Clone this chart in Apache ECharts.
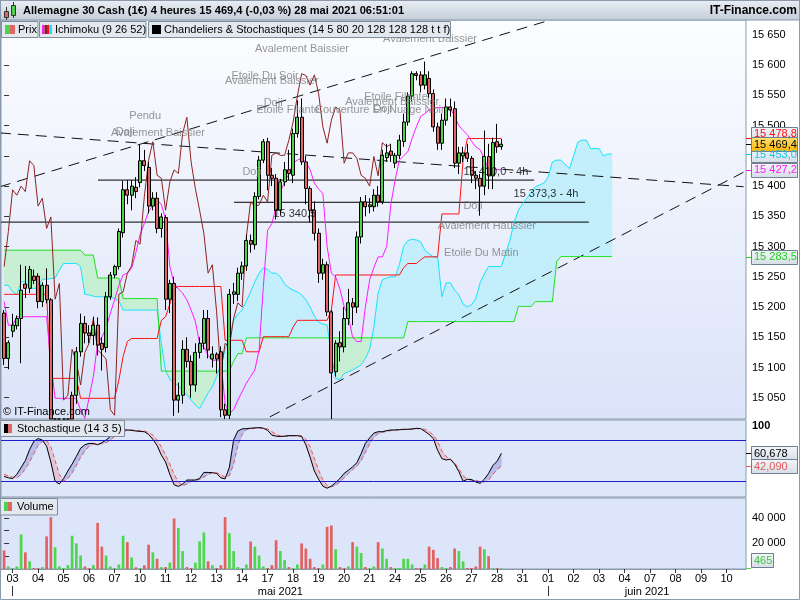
<!DOCTYPE html>
<html>
<head>
<meta charset="utf-8">
<title>Allemagne 30 Cash</title>
<script src="https://cdn.jsdelivr.net/npm/echarts@6.0.0/dist/echarts.min.js"></script>
<style>
html,body{margin:0;padding:0;background:#ffffff;overflow:hidden;}
#chart{width:800px;height:600px;}
</style>
</head>
<body>
<div id="chart"></div>
<script>
// ================= DATA =================
// 4-hour candles, index 0 = 30 Apr 16:00 ... index 117 = 28 May 04:00
const opens = [
15190,15115,15160,15169,15181,15238,15231,15251,15251,15209,
15236,15212,14950,14975,14985,14995,15054,15054,15126,15173,
15157,15153,15170,15140,15133,15217,15253,15267,15323,15394,
15385,15398,15406,15442,15431,15367,15380,15330,15348,15213,
15239,15046,15054,15130,15110,15071,15125,15140,15181,15114,
15122,15126,15030,15021,15221,15221,15256,15268,15310,15303,
15383,15443,15473.5,15418,15413,15360,15407,15427,15418,15487,
15514,15440,15396,15360,15322,15256,15270,15192,15093,15141,
15134,15181,15207,15200,15316,15374,15366,15366,15385,15374,
15447,15458,15438,15451,15474,15506,15549,15586,15584,15567,
15578,15553,15498,15471,15509,15531,15528,15438,15450,15455,
15446,15418,15413,15400,15449,15417,15473.5,15465.3];
const highs = [
15195,15145,15189,15186,15270,15268,15268,15262,15256,15241,
15264,15215,14990,14995,15000,15010,15060,15134,15189,15185,
15170,15184,15183,15150,15225,15258,15270,15330,15409,15410,
15410,15415,15468,15460,15440,15390,15390,15355,15352,15245,
15250,15075,15145,15150,15120,15140,15150,15195,15195,15135,
15125,15135,15040,15230,15240,15265,15275,15320,15320,15390,
15450,15478,15480,15430,15420,15412,15440,15460,15495,15542,
15545,15450,15400,15375,15330,15280,15275,15195,15145,15160,
15200,15230,15215,15325,15382,15385,15380,15395,15400,15460,
15470,15470,15455,15485,15520,15555,15590,15590,15590,15606,
15590,15560,15505,15520,15545,15545,15540,15465,15465,15470,
15450,15425,15420,15492,15470,15480,15503,15478];
const lows = [
15104,15097,15150,15163,15107,15215,15223,15238,15198,15200,
15206,14920,14930,14965,14975,14985,14990,15040,15118,15140,
15140,15137,15120,15095,15125,15212,15248,15262,15315,15370,
15360,15380,15398,15425,15355,15360,15322,15315,15195,15190,
15020,15025,15040,15100,15050,15060,15115,15130,15115,15100,
15090,15018,14990,15010,15205,15210,15245,15260,15290,15295,
15378,15438,15393,15400,15345,15352,15400,15410,15405,15480,
15435,15370,15340,15310,15240,15245,15185,14990,15085,15110,
15125,15170,15170,15190,15305,15350,15355,15358,15366,15370,
15440,15440,15430,15445,15465,15500,15540,15575,15555,15560,
15545,15490,15460,15460,15500,15515,15430,15420,15440,15440,
15405,15395,15351,15385,15395,15395,15455,15460];
const closes = [
15115,15141,15170,15181,15228,15231,15262,15244,15209,15236,
15212,14950,14975,14985,14995,15000,15005,15126,15173,15157,
15153,15170,15137,15130,15217,15253,15267,15325,15394,15385,
15400,15391,15442,15434,15367,15380,15330,15349,15213,15239,
15046,15054,15130,15110,15071,15125,15140,15181,15129,15122,
15114,15030,15021,15221,15225,15256,15268,15310,15304,15383,
15443,15473.5,15418,15413,15360,15407,15427,15421,15487,15514,
15440,15396,15360,15322,15256,15270,15192,15091,15140,15134,
15181,15207,15200,15316,15374,15366,15369,15385,15374,15451,
15455,15451,15451,15476,15506,15549,15586,15583,15567,15584,
15553,15498,15471,15509,15531,15526,15438,15455,15455,15446,
15418,15413,15400,15449,15417,15472,15465,15469.4];

// volumes, grouped by trading day (6 bars per day)
const volumes = [
14500,2000,
800,2000,27000,13000,6000,800,
800,1500,25500,40500,17000,2000,
800,3000,26000,20000,10500,2000,
800,3000,36000,17500,10500,2000,
800,3500,26000,21000,9000,1300,
800,3000,19000,13000,8000,1500,
1500,5000,39500,32000,14000,1500,
800,5000,21500,28500,6000,3000,
800,3000,40500,28000,14000,1500,
800,3500,21500,17500,10500,2000,
800,3000,22500,14000,7000,1500,
800,3500,20000,16000,8000,1500,
800,3500,33000,34000,15500,1500,
800,2000,21000,17500,12500,1500,
800,2000,21000,16000,8000,1500,
800,800,8000,8000,3500,800,
800,3500,17500,15000,8500,1500,
800,1500,16000,14000,6000,800,
800,2000,17500,15500,10000,800,
800,465];
// volume bar direction (G = up, R = down), grouped by day
const volumeDirection = ('RG'+'GGGRGR'+'RGRRGG'+'GGGGGR'+'RGRRGG'+'GGGRGR'+'GRRGRG'+'RGRGGR'+
  'RGGGRG'+'RRRGGG'+'GGRGGG'+'RRRGGR'+'GGRRRR'+'RGRRGR'+'RGRGGR'+'GGRGGR'+'GGGGGR'+'RGRRRG'+
  'GRRGGR'+'RRRGRG'+'RG').split('');

// Ichimoku lines, one value per bar
const tenkan = [
15209,15170,15170,15184,15184,15184,15184,15184,15184,15184,
15184,15107,15049,15049,15049,15049,15049,15049,15030,15016,
15050,15085,15140,15150,15165,15190,15212,15236,15253,15256,
15264,15290,15320,15338,15358,15369,15377,15370,15345,15267,
15239,15230,15223,15212,15195,15176,15140,15134,15120,15112,
15112,15112,15040,15024,15030,15046,15060,15074,15085,15096,
15129,15234,15327,15338,15366,15391,15407,15420,15438,15443,
15446,15440,15427,15405,15395,15388,15300,15256,15250,15230,
15201,15185,15150,15143,15143,15200,15245,15265,15283,15283,
15300,15370,15410,15443,15450,15457,15479,15498,15515,15520,
15526,15529,15530,15530,15530,15529,15515,15500,15492,15485,
15474,15465,15460,15446,15427.2,15427.2,15427.2,15427.2];
const kijun = [
15221,15221,15221,15221,15221,15221,15221,15221,15221,15221,
15221,15082,15082,15082,15082,15082,15082,15082,15049,15049,
15049,15049,15049,15049,15049,15049,15049,15079,15118,15143,
15148,15148,15148,15148,15148,15148,15148,15178,15184,15205,
15230,15234,15234,15234,15234,15234,15234,15234,15234,15234,
15234,15234,15145,15145,15145,15145,15145,15126,15126,15126,
15126,15151,15151,15151,15151,15151,15151,15151,15167,15178,
15178,15178,15178,15178,15178,15178,15178,15195,15253,15253,
15253,15253,15253,15253,15253,15253,15253,15253,15253,15253,
15253,15253,15253,15253,15265,15272,15272,15272,15278,15283,
15283,15283,15283,15354,15354,15354,15354,15354,15443,15478.8,
15478.8,15478.8,15478.8,15478.8,15478.8,15478.8,15478.8,15478.8];
// Senkou spans (already displaced 26 bars ahead): indices 0..143
const senkouA = [
15236,15236,15225,15221,15242,15242,15231,15231,15231,15246,
15246,15247,15248,15261,15272,15272,15272,15272,15267,15221,
15220,15218,15217,15217,15217,15216,15214,15210,15195,15195,
15195,15195,15195,15195,15195,15195,15195,15140,15095,15080,
15075,15070,15062,15055,15046,15038,15032,15045,15058,15068,
15085,15105,15130,15150,15178,15188,15195,15210,15225,15242,
15256,15265,15262,15256,15256,15250,15238,15232,15228,15225,
15220,15212,15200,15185,15175,15172,15170,15120,15082,15080,
15090,15093,15096,15100,15104,15115,15130,15167,15223,15245,
15248,15250,15250,15270,15300,15310,15312,15311,15308,15294,
15288,15283,15283,15217,15240,15240,15228,15220,15205,15200,
15204,15214,15240,15255,15267,15267,15267,15267,15289,15310,
15340,15360,15371,15380,15390,15399,15402,15405,15415,15440,
15443,15443,15436,15429,15450,15473,15476,15476,15462,15462,
15462,15450,15453,15453];
const senkouB = [
15294,15294,15294,15294,15294,15294,15294,15294,15294,15294,
15294,15294,15294,15294,15294,15294,15294,15294,15294,15286,
15286,15286,15248,15248,15248,15248,15248,15248,15214,15214,
15214,15214,15214,15214,15214,15214,15214,15094,15094,15094,
15094,15094,15094,15094,15094,15094,15094,15094,15094,15094,
15094,15094,15094,15094,15110,15123,15123,15149,15149,15149,
15149,15149,15149,15149,15149,15149,15149,15149,15149,15149,
15149,15149,15149,15149,15149,15149,15149,15149,15149,15149,
15149,15149,15149,15149,15149,15149,15149,15149,15149,15149,
15149,15149,15149,15149,15149,15176,15176,15176,15176,15176,
15176,15176,15176,15176,15176,15176,15176,15176,15176,15176,
15176,15176,15176,15176,15176,15176,15176,15176,15176,15176,
15176,15201,15201,15201,15201,15209,15209,15209,15209,15209,
15275,15283.5,15283.5,15283.5,15283.5,15283.5,15283.5,15283.5,15283.5,15283.5,
15283.5,15283.5,15283.5,15283.5];
const chikouShift = 26; // lagging span = closes drawn 26 bars back

// Stochastic (14 3 5)
const stochK = [
27,25,24,30,40,50,66,78,82,80,
71,48,20,16,24,35,45,56,68,73,
75,75,73,76,80,85,90,93,94.5,94.5,
94,93,92.5,92,88,81,72,58,48,30,
15,12.5,16,21.8,21.8,21.8,24,32.9,32.9,32.5,
31.5,25,23.5,40,80,93,96,96.5,97,97.5,
97.9,97,94,87,85.5,85,85.5,86.3,86.3,86.3,
85,73,55,35,23,13,10,13,18,24,
31.5,36,41,47,60,75,83,90,92,92,
93.5,94.5,94.5,95,95.5,95.5,96,96.9,96.5,92.5,
88,82,65,53,51,52,45,34,20,23,
22.5,19,17,23,31.5,43,49,60.678];
const stochD = [
30,28,26,25,30,38,48,60,72,78,
79,70,50,30,20,24,32,43,55,64,
71,74,74.5,74.5,76,80,85,89,92,94,
94.5,94,93.5,93,91,87,80,70,58,45,
30,19,14,16,19.5,21.5,22.5,26,30,32.5,
32.5,29.5,26,28,45,72,88,95,96.5,97,
97.5,97.5,96,92,88.5,86,85.5,85.5,86,86.3,
86,81,70,53,36,22,14,12,14,19,
25,31,37,42,50,62,74,84,89,91,
92.5,93.5,94.5,94.7,95,95.4,95.7,96.3,96.5,95.5,
92,87,78,64,56,52,47,38,28,23,
21.5,21,19.5,19,22,30,37,42.09];
const stochLevels = [80, 20];

// Axis tick labels
const dayLabels = ['03','04','05','06','07','10','11','12','13','14','17','18','19','20','21','24','25','26','27','28','31','01','02','03','04','07','08','09','10'];
const firstDayBar = 2;      // first bar of 3 May
const barsPerDay = 6;
const monthLabels = ['mai 2021','juin 2021'];
const monthFirstDay = [0, 21];     // position in dayLabels
const priceTicks = [15050,15100,15150,15200,15250,15300,15350,15400,15450,15500,15550,15600,15650];
const stochTicks = [100];
const volumeTicks = [10000,20000,30000,40000,50000];
const volumeTickLabels = [20000,40000];

// Horizontal support / resistance levels
const levelValues = [15410.0, 15373.3, 15340.5];
const levelStart = [22.1, 54.1, -1];
const levelEnd = [124.7, 136.7, 137.6];
const levelText = ['15 410,0 - 4h', '15 373,3 - 4h', '15 340,5'];
const levelLabelIdx = [115.7, 127.5, 68.4];
const levelLabelVal = [15422.9, 15386.9, 15353.9];

// Dashed trend lines [bar, price]
const trendStart = [[-1, 15488], [-1, 15399], [55, 14991]];
const trendEnd = [[174, 15399], [130, 15678], [174, 15423]];

// Candlestick pattern annotations
const patternText = ['Avalement Baissier','Etoile Du Soir','Avalement Baissier','Doji','Etoile Filante',
  'Couverture En Nuage Noir','Doji','Avalement Baissier','Etoile Filante','Avalement Baissier',
  'Pendu','Avalement Baissier','Doji','Doji','Doji','Avalement Haussier','Etoile Du Matin'];
const patternIdx = [70.1, 61.4, 63.0, 63.3, 66.8, 88.4, 89.1, 91.3, 92.2, 100.2, 33.2, 36.2, 28.5, 58.3, 110.3, 113.6, 112.3];
const patternVal = [15626.8, 15583.0, 15573.9, 15538.3, 15526.8, 15526.8, 15527.6, 15540.0, 15548.3, 15644.2, 15516.8, 15488.7, 15489.5, 15424.2, 15367.9, 15334.9, 15289.4];

const titleText = 'Allemagne 30 Cash (1€) 4 heures 15 469,4 (-0,03 %) 28 mai 2021 06:51:01';

// ================= CHART =================
const FONT = '"Liberation Sans", Arial, Helvetica, sans-serif';
const X_MIN = -0.73, X_MAX = 174.56;
const P_MIN = 15014.8, P_MAX = 15674.8;

const grp = s => String(s).replace(/\B(?=(\d{3})+(?!\d))/g, ' ');
const fmtDec = (v, d) => { const p = v.toFixed(d).split('.'); return grp(p[0]) + (d ? ',' + p[1] : ''); };
const pairs = arr => arr.map((v, i) => [i, v]);
// keep candles inside the price panel (the panel crops them like the original)
const inPanel = v => Math.min(P_MAX, Math.max(P_MIN, v));

const dayPos = dayLabels.map((d, k) => firstDayBar + k * barsPerDay);
const monthStarts = monthFirstDay.map(k => dayPos[k]);
const monthCenters = monthStarts.map((s, k) => (s + (k + 1 < monthStarts.length ? monthStarts[k + 1] : X_MAX)) / 2);

const candleData = opens.map((o, i) => [i, inPanel(o), inPanel(closes[i]), inPanel(lows[i]), inPanel(highs[i])]);
const chikouData = closes.slice(chikouShift).map((c, i) => [i, c]);
const cloudData = [];
for (let i = 0; i < senkouA.length - 1; i++) cloudData.push([i, senkouA[i], senkouB[i], senkouA[i + 1], senkouB[i + 1]]);
const stochFill = [];
for (let i = 0; i < stochK.length - 1; i++) stochFill.push([i, stochK[i], stochD[i], stochK[i + 1], stochD[i + 1]]);
const volData = volumes.map((v, i) => ({ value: [i, v], itemStyle: { color: volumeDirection[i] === 'G' ? '#4fd64f' : '#e26262' } }));

function bandRender(upFill, downFill) {
  return function (params, api) {
    const i = api.value(0);
    const a0 = api.value(1), b0 = api.value(2), a1 = api.value(3), b1 = api.value(4);
    const p = (x, y) => api.coord([x, y]);
    const d0 = a0 - b0, d1 = a1 - b1;
    const mk = (pts, fill) => ({ type: 'polygon', shape: { points: pts }, style: { fill: fill, stroke: fill, lineWidth: 0.6 } });
    const children = [];
    if (d0 * d1 >= 0) {
      children.push(mk([p(i, a0), p(i + 1, a1), p(i + 1, b1), p(i, b0)], (d0 + d1) >= 0 ? upFill : downFill));
    } else {
      const t = d0 / (d0 - d1);
      const xm = i + t, ym = a0 + t * (a1 - a0);
      children.push(mk([p(i, a0), p(xm, ym), p(i, b0)], d0 > 0 ? upFill : downFill));
      children.push(mk([p(xm, ym), p(i + 1, a1), p(i + 1, b1)], d1 > 0 ? upFill : downFill));
    }
    return { type: 'group', children: children };
  };
}

const chart = echarts.init(document.getElementById('chart'), null, { renderer: 'canvas', width: 800, height: 600 });

const mainBg = new echarts.graphic.LinearGradient(0, 0, 0, 1, [
  { offset: 0, color: '#fcfdff' }, { offset: 1, color: '#dbe3f9' }]);

const lineS = (data, color, z, extra) => Object.assign({
  type: 'line', xAxisIndex: 0, yAxisIndex: 0, data: data, symbol: 'none', showSymbol: false,
  lineStyle: { color: color, width: 1 }, z: z, silent: true, animation: false
}, extra || {});

const series = [];
series.push({ type: 'custom', xAxisIndex: 0, yAxisIndex: 0, renderItem: bandRender('#c2effb', '#c7efd3'),
  data: cloudData, encode: { x: 0, y: [1, 2, 3, 4] }, z: 1, silent: true });
levelValues.forEach((v, k) => series.push(lineS([[levelStart[k], v], [levelEnd[k], v]], '#000000', 3)));
trendStart.forEach((s, k) => series.push(lineS([s, trendEnd[k]], '#111111', 3, { lineStyle: { color: '#111111', width: 1, type: [11, 7] } })));
series.push(lineS(pairs(senkouA), '#18e4ff', 4));
series.push(lineS(pairs(senkouB), '#22e022', 4));
series.push(lineS(pairs(kijun), '#ff1010', 4));
series.push(lineS(pairs(tenkan), '#ff1aff', 4));
series.push(lineS(chikouData, '#8e2222', 4));
series.push({
  type: 'candlestick', xAxisIndex: 0, yAxisIndex: 0, data: candleData, barWidth: 3.4, z: 6, silent: true, clip: true,
  itemStyle: { color: '#4ed24e', color0: '#e06666', borderColor: '#000000', borderColor0: '#000000', borderWidth: 1 }
});
series.push({
  type: 'scatter', xAxisIndex: 0, yAxisIndex: 0, symbolSize: 1, z: 7, silent: true,
  itemStyle: { color: 'rgba(0,0,0,0)' },
  data: patternText.map((t, k) => ({ name: t, value: [patternIdx[k], patternVal[k]] })),
  label: { show: true, position: 'inside', formatter: '{b}', color: '#7c7c7c', fontSize: 11, fontFamily: FONT }
});
series.push({
  type: 'scatter', xAxisIndex: 0, yAxisIndex: 0, symbolSize: 1, z: 7, silent: true,
  itemStyle: { color: 'rgba(0,0,0,0)' },
  data: levelText.map((t, k) => ({ name: t, value: [levelLabelIdx[k], levelLabelVal[k]] })),
  label: { show: true, position: 'inside', formatter: '{b}', color: '#000000', fontSize: 11, fontFamily: FONT }
});
// stochastic
series.push({ type: 'custom', xAxisIndex: 1, yAxisIndex: 1, renderItem: bandRender('#b9bdec', '#e3c6d6'),
  data: stochFill, encode: { x: 0, y: [1, 2, 3, 4] }, z: 1, silent: true });
series.push({
  type: 'line', xAxisIndex: 1, yAxisIndex: 1, data: pairs(stochK), symbol: 'none', z: 4, silent: true,
  lineStyle: { color: '#000000', width: 1 },
  markLine: { symbol: 'none', silent: true, label: { show: false }, lineStyle: { color: '#1c1cc8', width: 1, type: 'solid' },
    data: stochLevels.map(v => ({ yAxis: v })) }
});
series.push({
  type: 'line', xAxisIndex: 1, yAxisIndex: 1, data: pairs(stochD), symbol: 'none', z: 3, silent: true,
  lineStyle: { color: '#e35a5a', width: 1, type: [4, 3] }
});
// volume
series.push({ type: 'bar', xAxisIndex: 2, yAxisIndex: 2, data: volData, barWidth: 2.7, z: 3, silent: true });

const axisFontLabel = { color: '#000', fontSize: 11, fontFamily: FONT };

const option = {
  animation: false,
  backgroundColor: '#ffffff',
  tooltip: { show: false },
  grid: [
    { left: 1, right: 54, top: 20, height: 399, show: true, backgroundColor: mainBg, borderColor: '#8a99ab', borderWidth: 1, outerBoundsMode: 'none', containLabel: false },
    { left: 1, right: 54, top: 420, height: 77, show: true, backgroundColor: '#dee6fa', borderColor: '#8a99ab', borderWidth: 1, outerBoundsMode: 'none', containLabel: false },
    { left: 1, right: 54, top: 498, height: 71, show: true, backgroundColor: '#dce5fa', borderColor: '#8a99ab', borderWidth: 1, outerBoundsMode: 'none', containLabel: false }
  ],
  xAxis: [
    { type: 'value', gridIndex: 0, min: X_MIN, max: X_MAX, show: false },
    { type: 'value', gridIndex: 1, min: X_MIN, max: X_MAX, show: false },
    { type: 'value', gridIndex: 2, min: X_MIN, max: X_MAX, splitLine: { show: false },
      axisLine: { show: true, onZero: false, lineStyle: { color: '#8a99ab' } },
      axisTick: { show: true, customValues: dayPos, length: 4, lineStyle: { color: '#333' } },
      axisLabel: Object.assign({ customValues: dayPos, margin: 4,
        formatter: v => dayLabels[Math.round((v - firstDayBar) / barsPerDay)] || '' }, axisFontLabel) },
    { type: 'value', gridIndex: 2, min: X_MIN, max: X_MAX, position: 'bottom', offset: 17, splitLine: { show: false },
      axisLine: { show: false, onZero: false },
      axisTick: { show: true, customValues: monthStarts, length: 10, lineStyle: { color: '#333' } },
      axisLabel: Object.assign({ customValues: monthCenters, margin: 0,
        formatter: v => { let best = 0; monthCenters.forEach((c, k) => { if (Math.abs(c - v) < Math.abs(monthCenters[best] - v)) best = k; }); return monthLabels[best]; } }, axisFontLabel) }
  ],
  yAxis: [
    { type: 'value', gridIndex: 0, position: 'right', min: P_MIN, max: P_MAX, splitLine: { show: false },
      axisLine: { show: false },
      axisTick: { show: true, customValues: priceTicks, length: 5, lineStyle: { color: '#333' } },
      axisLabel: Object.assign({ customValues: priceTicks, margin: 6, formatter: v => grp(v) }, axisFontLabel) },
    { type: 'value', gridIndex: 1, position: 'right', min: -2.8, max: 109, splitLine: { show: false },
      axisLine: { show: false },
      axisTick: { show: true, customValues: stochTicks, length: 5, lineStyle: { color: '#333' } },
      axisLabel: Object.assign({ customValues: stochTicks, margin: 6, fontWeight: 'bold', formatter: v => String(v) }, axisFontLabel) },
    { type: 'value', gridIndex: 2, position: 'right', min: 0, max: 55470, splitLine: { show: false },
      axisLine: { show: false },
      axisTick: { show: true, customValues: volumeTicks, length: 5, lineStyle: { color: '#333' } },
      axisLabel: Object.assign({ customValues: volumeTickLabels, margin: 6, formatter: v => grp(v) }, axisFontLabel) }
  ],
  series: series
};
chart.setOption(option);

// ---------- overlay graphics: header, legends, value boxes ----------
const Z = 100;
const G = [];
const txt = (x, y, text, font, fill, align) => ({ type: 'text', x: x, y: y, z: Z + 2, silent: true,
  style: { text: text, font: font, fill: fill, align: align || 'left', verticalAlign: 'middle', textAlign: align || 'left', textVerticalAlign: 'middle' } });
const rect = (x, y, w, h, fill, stroke, z) => ({ type: 'rect', z: z || Z, silent: true, shape: { x: x, y: y, width: w, height: h },
  style: { fill: fill, stroke: stroke || null, lineWidth: 1 } });
const seg = (x1, y1, x2, y2, color, z) => ({ type: 'line', z: z || Z + 1, silent: true, shape: { x1: x1, y1: y1, x2: x2, y2: y2 }, style: { stroke: color, lineWidth: 1 } });
const f11 = '11px ' + FONT;

// title bar
G.push(rect(0.5, 0.5, 799, 19.5, new echarts.graphic.LinearGradient(0, 0, 0, 1, [{ offset: 0, color: '#e9eef4' }, { offset: 1, color: '#c2cdd9' }]), '#8a99ab'));
G.push(seg(6.5, 7, 6.5, 20, '#333')); G.push(rect(4.5, 11.5, 4, 6, '#e06666', '#333', Z + 2));
G.push(seg(13.5, 2, 13.5, 18, '#333')); G.push(rect(11.5, 5.5, 4, 10, '#4ed24e', '#333', Z + 2));
G.push(txt(23, 11, titleText, 'bold 11.1px ' + FONT, '#000'));
G.push(txt(797, 11, 'IT-Finance.com', 'bold 12px ' + FONT, '#000', 'right'));

// legend boxes
const legFill = '#e3e8ee', legStroke = '#7d8d9e';
G.push(rect(1.5, 21.5, 36.5, 16, legFill, legStroke));
G.push(rect(5, 25, 5, 9, '#4ed24e', null, Z + 1)); G.push(rect(10, 25, 5, 9, '#e06666', null, Z + 1));
G.push(txt(18, 30, 'Prix', f11, '#000'));
G.push(rect(39.5, 21.5, 106.5, 16, legFill, legStroke));
['#ff1aff', '#8e2222', '#ff1010', '#18e4ff'].forEach((c, k) => G.push(rect(42 + k * 2.5, 25, 2.5, 9, c, null, Z + 1)));
G.push(txt(55, 30, 'Ichimoku (9 26 52)', f11, '#000'));
G.push(rect(148.5, 21.5, 302, 16, legFill, legStroke));
G.push(rect(152, 25, 9, 9, '#000', null, Z + 1));
G.push(txt(164, 30, 'Chandeliers & Stochastiques (14 5 80 20 128 128 128 t t f)', f11, '#000'));

// watermark
G.push(txt(3, 412, '© IT-Finance.com', f11, '#000'));

// stochastic & volume panel headers
G.push(rect(0.5, 420.5, 124, 16, legFill, legStroke));
G.push(rect(4, 424, 4, 9, '#000', null, Z + 1)); G.push(rect(8, 424, 4, 9, '#e06666', null, Z + 1));
G.push(txt(17, 429, 'Stochastique (14 3 5)', f11, '#000'));
G.push(rect(0.5, 498.5, 57, 16.5, legFill, legStroke));
G.push(rect(4, 502, 4, 9, '#4ed24e', null, Z + 1)); G.push(rect(8, 502, 4, 9, '#e06666', null, Z + 1));
G.push(txt(17, 507, 'Volume', f11, '#000'));

// right-hand value boxes
const py = v => chart.convertToPixel({ yAxisIndex: 0 }, v);
const boxFill = () => new echarts.graphic.LinearGradient(0, 0, 0, 1, [{ offset: 0, color: '#f4f7fa' }, { offset: 1, color: '#d5dde6' }]);
const valueBox = (yc, text, color, fill, w) => {
  G.push(rect(751.5, Math.round(yc - 7) + 0.5, w || 46, 14, fill || boxFill(), '#6f7f90', Z + 3));
  G.push(Object.assign(txt(754, yc + 0.5, text, f11, color), { z: Z + 4 }));
};
const lastClose = closes[closes.length - 1];
const lastKijun = kijun[kijun.length - 1];
const lastTenkan = tenkan[tenkan.length - 1];
const lastA = senkouA[senkouA.length - 1];
const lastB = senkouB[senkouB.length - 1];
const yClose = py(lastClose), yKij = py(lastKijun), yTen = py(lastTenkan), yA = py(lastA), yB = py(lastB);
[[yKij, '#ff1010'], [yClose, '#000'], [yA, '#18c8e8'], [yTen, '#ff1aff'], [yB, '#22d022']].forEach(a => G.push(seg(746, Math.round(a[0]) + 0.5, 751, Math.round(a[0]) + 0.5, a[1], Z + 2)));
valueBox(Math.min(yKij, yClose - 10.5), fmtDec(lastKijun, 1), '#ff1010');
valueBox(Math.max(yA, yClose + 10.5), fmtDec(lastA, 1), '#16c4e4');
valueBox(yClose, fmtDec(lastClose, 1), '#000',
  new echarts.graphic.LinearGradient(0, 0, 0, 1, [{ offset: 0, color: '#ffe27a' }, { offset: 1, color: '#ffb400' }]));
valueBox(yTen, fmtDec(lastTenkan, 1), '#ff1aff');
valueBox(yB, fmtDec(lastB, 1), '#1ed21e');

// stochastic value boxes
const sy = v => chart.convertToPixel({ yAxisIndex: 1 }, v);
const lastK = stochK[stochK.length - 1], lastD = stochD[stochD.length - 1];
G.push(seg(746, Math.round(sy(lastK)) + 0.5, 751, Math.round(sy(lastK)) + 0.5, '#000', Z + 2));
G.push(seg(746, Math.round(sy(lastD)) + 0.5, 751, Math.round(sy(lastD)) + 0.5, '#e35a5a', Z + 2));
valueBox(sy(lastK), lastK.toFixed(3).replace('.', ','), '#000');
valueBox(sy(lastD), lastD.toFixed(3).replace('.', ','), '#e35a5a');

// volume value box
const lastVol = volumes[volumes.length - 1];
const vy = chart.convertToPixel({ yAxisIndex: 2 }, lastVol);
G.push(seg(746, Math.round(vy) + 0.5, 751, Math.round(vy) + 0.5, '#4fd64f', Z + 2));
valueBox(Math.min(vy, 560), grp(lastVol), '#3cc83c', null, 22);

// outer frame
G.push({ type: 'rect', z: Z + 5, silent: true, shape: { x: 0.5, y: 0.5, width: 799, height: 599 }, style: { fill: null, stroke: '#8a99ab', lineWidth: 1 } });

chart.setOption({ graphic: G });
</script>
</body>
</html>
